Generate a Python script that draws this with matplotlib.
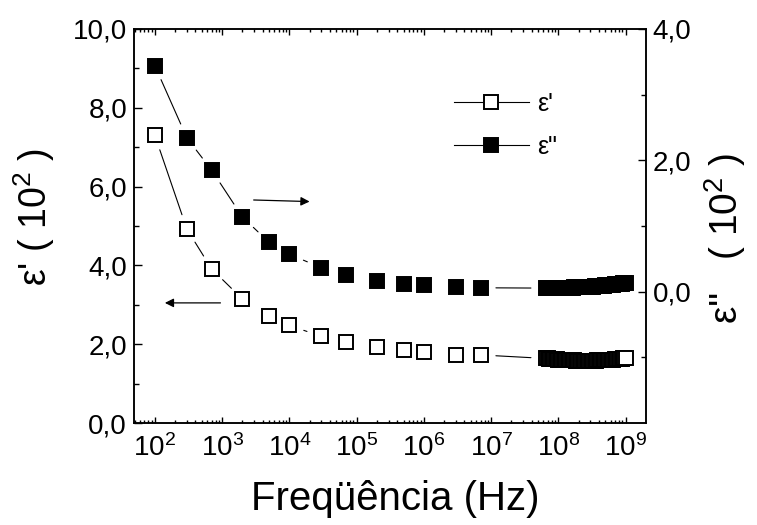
import numpy as np
import matplotlib
matplotlib.use('Agg')
import matplotlib.pyplot as plt
from matplotlib.ticker import FixedLocator, LogLocator, NullFormatter

plt.rcParams['font.family'] = ['Liberation Sans', 'DejaVu Sans']
plt.rcParams['mathtext.fontset'] = 'custom'
plt.rcParams['mathtext.rm'] = 'Liberation Sans'

# low frequency points (Hz)
freq_lo = [1e2, 3e2, 7e2, 2e3, 5e3, 1e4, 3e4, 7e4, 2e5, 5e5, 1e6, 3e6, 7e6]
eps1_lo = [7.30, 4.92, 3.91, 3.15, 2.72, 2.48, 2.20, 2.06, 1.93, 1.85, 1.80, 1.74, 1.73]
eps2_lo = [3.44, 2.34, 1.85, 1.14, 0.75, 0.57, 0.365, 0.26, 0.17, 0.12, 0.105, 0.075, 0.06]

# high frequency sweep, log10(Hz)
hf_log = [7.82, 7.84, 7.86, 7.88, 7.90, 7.92, 7.94, 7.96, 7.98, 8.00,
          8.02, 8.04, 8.06, 8.08, 8.10, 8.12, 8.14, 8.16, 8.18, 8.20,
          8.22, 8.24, 8.26, 8.28, 8.30, 8.32, 8.34, 8.36, 8.38, 8.40,
          8.42, 8.44, 8.46, 8.48, 8.50, 8.52, 8.54, 8.56, 8.58, 8.60,
          8.62, 8.64, 8.66, 8.68, 8.70, 8.72, 8.74, 8.76, 8.78, 8.80,
          8.82, 8.84, 8.86, 8.88, 8.90, 8.92, 8.94, 8.96, 8.98, 9.00]
eps1_hf = [1.64, 1.64, 1.63, 1.63, 1.63, 1.62, 1.62, 1.62, 1.62, 1.61,
           1.61, 1.61, 1.61, 1.60, 1.60, 1.60, 1.60, 1.59, 1.59, 1.59,
           1.59, 1.59, 1.58, 1.58, 1.58, 1.58, 1.58, 1.58, 1.58, 1.58,
           1.58, 1.58, 1.58, 1.58, 1.58, 1.58, 1.58, 1.58, 1.59, 1.59,
           1.59, 1.59, 1.59, 1.60, 1.60, 1.60, 1.60, 1.61, 1.61, 1.61,
           1.61, 1.62, 1.62, 1.62, 1.63, 1.63, 1.63, 1.64, 1.64, 1.65]
eps2_hf = [0.055, 0.055, 0.056, 0.056, 0.057, 0.057, 0.057, 0.058, 0.058, 0.058,
           0.059, 0.059, 0.060, 0.060, 0.061, 0.061, 0.062, 0.062, 0.063, 0.063,
           0.064, 0.065, 0.065, 0.066, 0.067, 0.068, 0.069, 0.070, 0.071, 0.072,
           0.073, 0.074, 0.075, 0.077, 0.078, 0.079, 0.081, 0.082, 0.084, 0.085,
           0.087, 0.089, 0.091, 0.093, 0.095, 0.097, 0.099, 0.101, 0.104, 0.106,
           0.108, 0.111, 0.113, 0.116, 0.118, 0.121, 0.124, 0.127, 0.130, 0.133]

freq_hf = list(10 ** np.array(hf_log))
freq = freq_lo + freq_hf
eps1 = eps1_lo + eps1_hf
eps2 = eps2_lo + eps2_hf

xticks = [1e2, 1e3, 1e4, 1e5, 1e6, 1e7, 1e8, 1e9]
xlabels = [r'$\mathregular{10^{%d}}$' % k for k in range(2, 10)]
y1ticks = [0, 2, 4, 6, 8, 10]
y1labels = ['0,0', '2,0', '4,0', '6,0', '8,0', '10,0']
y2ticks = [0, 2, 4]
y2labels = ['0,0', '2,0', '4,0']

fig = plt.figure(figsize=(7.57, 5.25), dpi=100)
ax = fig.add_axes([0.177, 0.194, 0.676, 0.751])
ax2 = ax.twinx()

ax.set_xscale('log')
ax.set_xlim(10 ** 1.69, 10 ** 9.30)
ax.set_ylim(0, 10)
ax2.set_ylim(-2, 4)

ms = 9.5
mew = 1.4
ax.plot(freq, eps1, ls='none', marker='s', ms=ms, mfc='white', mec='black', mew=mew, zorder=3)
ax2.plot(freq, eps2, ls='none', marker='s', ms=ms, mfc='black', mec='black', mew=mew, zorder=3)

# connecting lines with a gap near the symbols
gap = 11
npts = len(freq_lo) + 1
for a, xs, ys in [(ax, freq, eps1), (ax2, freq, eps2)]:
    for i in range(npts - 1):
        p0 = a.transData.transform((xs[i], ys[i]))
        p1 = a.transData.transform((xs[i + 1], ys[i + 1]))
        if np.hypot(*(p1 - p0)) > 2 * gap * 100 / 72 + 3:
            a.annotate('', xy=(xs[i + 1], ys[i + 1]), xytext=(xs[i], ys[i]),
                       arrowprops=dict(arrowstyle='-', color='black', lw=0.8,
                                       shrinkA=gap, shrinkB=gap), zorder=2)

# arrows pointing to the matching axis
ax.annotate('', xy=(141, 3.05), xytext=(946, 3.05),
            arrowprops=dict(arrowstyle='-|>', color='black', lw=0.9,
                            mutation_scale=13, shrinkA=0, shrinkB=0))
ax.annotate('', xy=(2.0e4, 5.62), xytext=(2950, 5.66),
            arrowprops=dict(arrowstyle='-|>', color='black', lw=0.9,
                            mutation_scale=13, shrinkA=0, shrinkB=0))

ax.xaxis.set_major_locator(FixedLocator(xticks))
ax.set_xticklabels(xlabels)
ax.xaxis.set_minor_locator(LogLocator(base=10, subs=np.arange(2, 10), numticks=20))
ax.xaxis.set_minor_formatter(NullFormatter())
ax.set_yticks(y1ticks)
ax.set_yticklabels(y1labels)
ax.yaxis.set_minor_locator(FixedLocator([1, 3, 5, 7, 9]))
ax2.set_yticks(y2ticks)
ax2.set_yticklabels(y2labels)
ax2.yaxis.set_minor_locator(FixedLocator([-1, 1, 3]))

ax.tick_params(axis='both', which='both', direction='in', labelsize=20, width=1.0)
ax.tick_params(axis='x', which='major', length=4, top=True, pad=8)
ax.tick_params(axis='x', which='minor', length=2.5, top=True)
ax.tick_params(axis='y', which='major', length=6, pad=5)
ax.tick_params(axis='y', which='minor', length=3.5)
ax2.tick_params(axis='y', which='both', direction='in', labelsize=20, width=1.0)
ax2.tick_params(axis='y', which='major', length=6, pad=5)
ax2.tick_params(axis='y', which='minor', length=3.5)
for a in (ax, ax2):
    for s in a.spines.values():
        s.set_linewidth(1.1)

ax.set_xlabel('Freqüência (Hz)', fontsize=29)
ax.xaxis.set_label_coords(0.51, -0.145)
ax.set_ylabel(r"ε' ( 10$\mathregular{^2}$ )", fontsize=27)
ax.yaxis.set_label_coords(-0.15, 0.523)
ax2.set_ylabel(r"ε''   ( 10$\mathregular{^2}$ )", fontsize=28, rotation=90)
ax2.yaxis.set_label_coords(1.11, 0.47)

# legend
h1, = ax.plot([], [], color='black', lw=0.8, marker='s', ms=ms, mfc='white', mec='black', mew=mew)
h2, = ax.plot([], [], color='black', lw=0.8, marker='s', ms=ms, mfc='black', mec='black', mew=mew)
ax.legend([h1, h2], ["ε'", 'ε"'], loc='upper left', bbox_to_anchor=(0.625, 0.84),
          frameon=False, fontsize=18, handlelength=3.0, handletextpad=0.35,
          labelspacing=0.75, borderpad=0, borderaxespad=0, numpoints=1)

fig.savefig('out.png', dpi=100)
